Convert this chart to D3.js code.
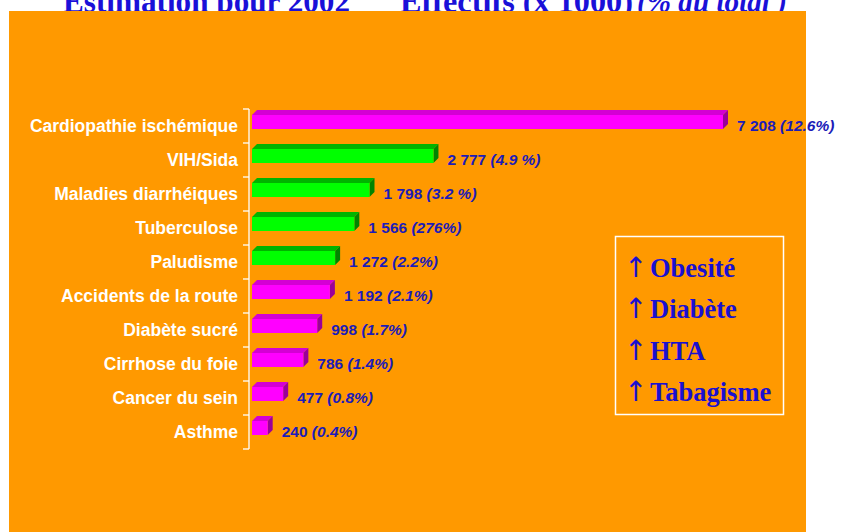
<!DOCTYPE html>
<html><head><meta charset="utf-8">
<script src="https://cdn.jsdelivr.net/npm/d3@7"></script>
<style>html,body{margin:0;padding:0;background:#fff;}svg{display:block;}</style>
</head><body>
<svg id="c" width="841" height="532"></svg>
<script>
const categories = ["Cardiopathie ischémique","VIH/Sida","Maladies diarrhéiques","Tuberculose","Paludisme","Accidents de la route","Diabète sucré","Cirrhose du foie","Cancer du sein","Asthme"];
const values = [7208, 2777, 1798, 1566, 1272, 1192, 998, 786, 477, 240];
const pctLabels = ["(12.6%)","(4.9 %)","(3.2 %)","(276%)","(2.2%)","(2.1%)","(1.7%)","(1.4%)","(0.8%)","(0.4%)"];
const groups = ["nc","inf","inf","inf","inf","nc","nc","nc","nc","nc"];
const legendItems = ["Obesité","Diabète","HTA","Tabagisme"];
const titleLeft = "Estimation pour 2002";
const titleRight = "Effectifs (x 1000)";
const titleItalic = "(% du total )";

const svg = d3.select("#c");
const blue = "#1c1cb8";
const colors = {
  nc: {front:"#ff00ff", top:"#d400d4", side:"#9a009a"},
  inf:{front:"#00ff00", top:"#00b400", side:"#008400"}
};

// title (partly hidden behind the panel, as in the original)
const t = svg.append("text").attr("y", 12).attr("font-family","'Liberation Serif','Times New Roman',serif")
  .attr("font-weight","bold").attr("font-size", 31).attr("fill","#1a10d8");
t.append("tspan").attr("x", 63).text(titleLeft).attr("textLength", 287).attr("lengthAdjust","spacingAndGlyphs");
t.append("tspan").attr("x", 400).text(titleRight).attr("textLength", 233).attr("lengthAdjust","spacingAndGlyphs");
t.append("tspan").attr("x", 637).attr("font-style","italic").text(titleItalic).attr("textLength", 150).attr("lengthAdjust","spacingAndGlyphs");

svg.append("rect").attr("x",9).attr("y",11).attr("width",797).attr("height",521).attr("fill","#ff9900");

const x = d3.scaleLinear().domain([0, 7208]).range([252, 723]);
const y = d3.scaleBand().domain(categories).range([109, 449]).paddingInner(0).paddingOuter(0);
const depth = 5, fh = 14, off = 6;

// axis
const ax = svg.append("g").attr("stroke","#fff").attr("stroke-width",1.3);
ax.append("line").attr("x1",249).attr("x2",249).attr("y1",y.range()[0]).attr("y2",y.range()[1]);
const bounds = categories.map(c => y(c)).concat([y.range()[1]]);
ax.selectAll("line.t").data(bounds).join("line").attr("class","t")
  .attr("x1",243).attr("x2",249).attr("y1",d=>d).attr("y2",d=>d);

svg.append("g").selectAll("text").data(categories).join("text")
  .attr("x",238).attr("y",d=>y(d)+y.bandwidth()/2+6)
  .attr("text-anchor","end").attr("fill","#fff")
  .attr("font-family","'Liberation Sans',Arial,sans-serif").attr("font-weight","bold").attr("font-size",17.5)
  .text(d=>d);

// bars
const bars = svg.append("g").selectAll("g").data(categories).join("g");
bars.each(function(c,i){
  const g = d3.select(this);
  const col = colors[groups[i]];
  const x0 = x(0), x1 = x(values[i]);
  const yt = y(c) + off, yb = yt + fh;
  g.append("path").attr("fill",col.top)
    .attr("d",`M${x0},${yt}L${x0+depth},${yt-depth}L${x1+depth},${yt-depth}L${x1},${yt}Z`);
  g.append("path").attr("fill",col.side)
    .attr("d",`M${x1},${yt}L${x1+depth},${yt-depth}L${x1+depth},${yb-depth}L${x1},${yb}Z`);
  g.append("rect").attr("x",x0).attr("y",yt).attr("width",x1-x0).attr("height",fh).attr("fill",col.front);
  const lab = g.append("text").attr("x",x1+depth+9).attr("y",y(c)+y.bandwidth()/2+5)
    .attr("fill",blue).attr("font-family","'Liberation Sans',Arial,sans-serif")
    .attr("font-weight","bold").attr("font-size",15.5);
  lab.append("tspan").text(d3.format(",")(values[i]).replace(/,/g," ") + " ");
  lab.append("tspan").attr("font-style","italic").text(pctLabels[i]);
});

// legend box
svg.append("rect").attr("x",615.5).attr("y",236.5).attr("width",168).attr("height",178)
  .attr("fill","none").attr("stroke","#fff").attr("stroke-width",1.5);
const lg = svg.append("g").selectAll("text").data(legendItems).join("text")
  .attr("y",(d,i)=>277+i*41.3)
  .attr("font-family","'Liberation Serif','Times New Roman',serif").attr("font-weight","bold")
  .attr("font-size",26.5).attr("fill","#1a10d0");
lg.append("tspan").attr("x",624).attr("font-family","'DejaVu Sans',sans-serif").attr("font-weight","normal")
  .attr("font-size",28).text("↑");
lg.append("tspan").attr("x",650).text(d=>d);
</script>
</body></html>
